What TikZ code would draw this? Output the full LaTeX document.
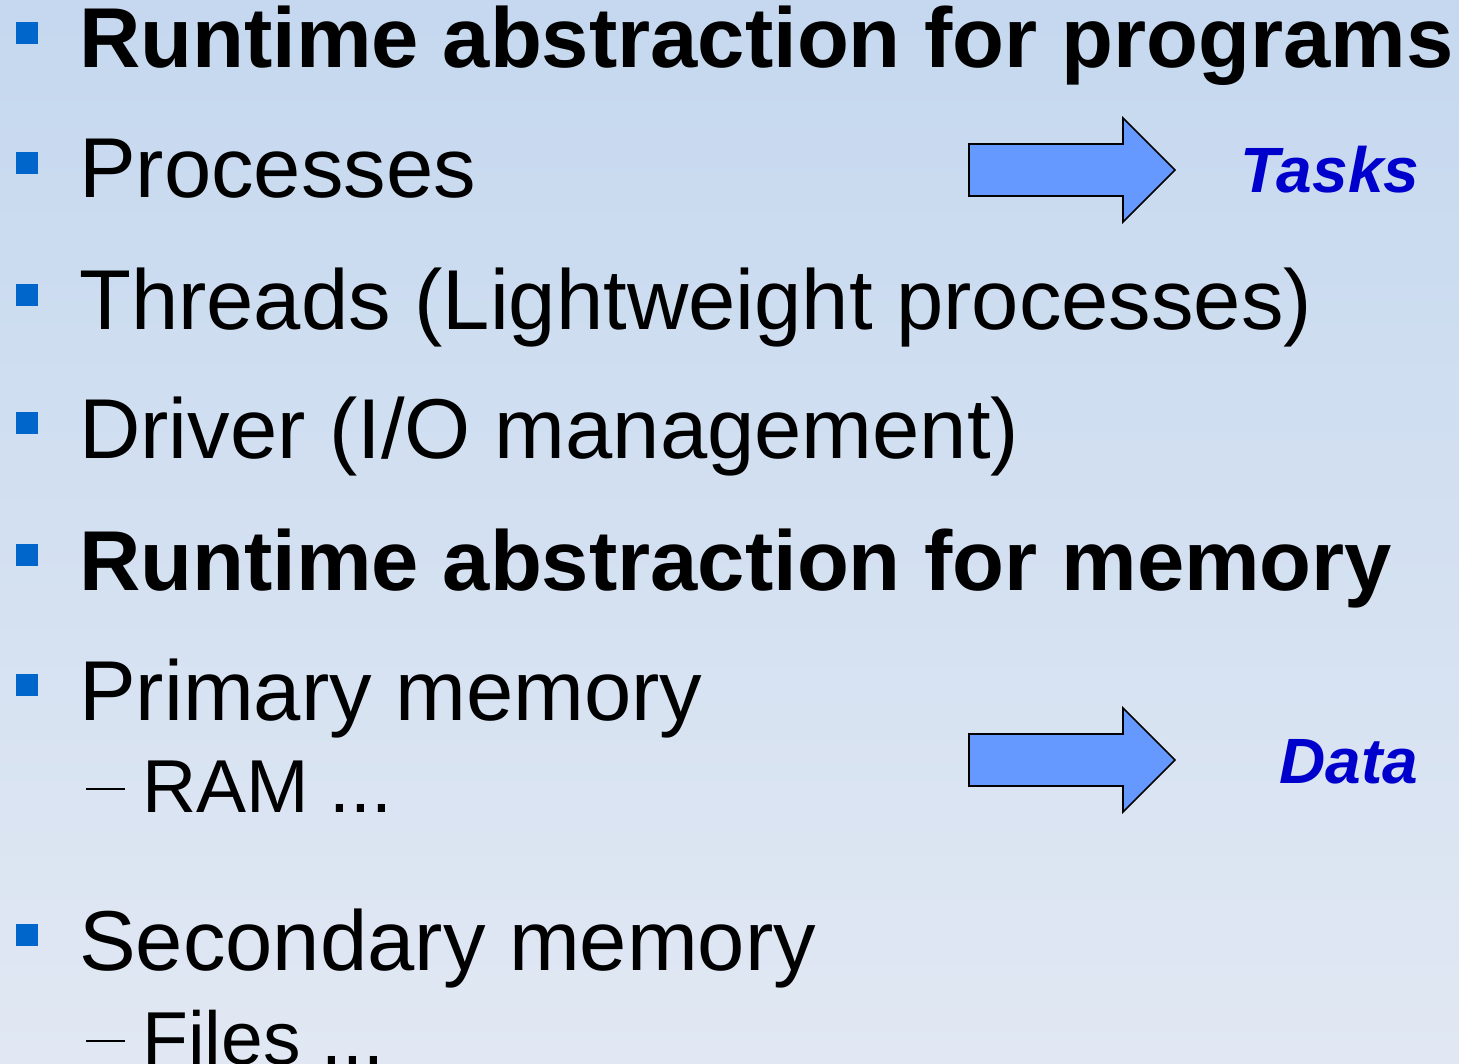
\documentclass[tikz,border=0pt]{standalone}
\usepackage{fontspec}
\setmainfont{Liberation Sans}
\definecolor{bgtop}{RGB}{197,216,239}
\definecolor{bgbottom}{RGB}{225,232,243}
\definecolor{bulletblue}{RGB}{0,102,204}
\definecolor{arrowfill}{RGB}{102,153,255}
\definecolor{labelblue}{RGB}{0,0,204}
\tikzset{
  item/.style={anchor=base west, inner sep=0pt, font=\fontsize{85}{85}\selectfont},
  head/.style={item, font=\fontsize{85}{85}\selectfont\bfseries},
  subitem/.style={anchor=base west, inner sep=0pt, font=\fontsize{75}{75}\selectfont},
  label/.style={anchor=base west, inner sep=0pt, text=labelblue,
                font=\fontsize{64}{64}\selectfont\bfseries\itshape},
  bulletsq/.style={fill=bulletblue},
  subdash/.style={line width=2.6pt},
  blockarrow/.style={draw=black, line width=1.6pt, fill=arrowfill, line join=miter}
}
\begin{document}
\begin{tikzpicture}[x=1pt, y=-1pt]
  \useasboundingbox (0,0) rectangle (1459,1064);
  % background gradient
  \shade[top color=bgtop, bottom color=bgbottom] (0,0) rectangle (1459,1064);

  % bullet squares (baseline - 46 .. baseline - 24)
  \foreach \b in {68,198,330,458,590,720,970}
    \fill[bulletsq] (16,\b-46) rectangle (38,\b-24);

  % list items
  \node[head] (progs) at (79,68)  {Runtime abstraction for programs};
  \node[item] (procs) at (79,198) {Processes};
  \node[item] (thr)   at (79,330) {Threads (Lightweight processes)};
  \node[item] (drv)   at (79,458) {Driver (I/O management)};
  \node[head] (mem)   at (79,590) {Runtime abstraction for memory};
  \node[item] (prim)  at (79,720) {Primary memory};
  \node[subitem] (ram)   at (142,812)  {RAM ...};
  \node[item] (sec)   at (79,970) {Secondary memory};
  \node[subitem] (files) at (142,1064) {Files ...};

  % sub-item dashes
  \draw[subdash] (86,789) -- (125,789);
  \draw[subdash] (86,1041) -- (125,1041);

  % block arrows
  \draw[blockarrow] (969,144) -- (1123,144) -- (1123,118) -- (1175,170)
        -- (1123,222) -- (1123,196) -- (969,196) -- cycle;
  \draw[blockarrow] (969,734) -- (1123,734) -- (1123,708) -- (1175,760)
        -- (1123,812) -- (1123,786) -- (969,786) -- cycle;

  % arrow targets
  \node[label] (tasks) at (1240,193) {Tasks};
  \node[label] (data)  at (1279,783) {Data};
\end{tikzpicture}
\end{document}
